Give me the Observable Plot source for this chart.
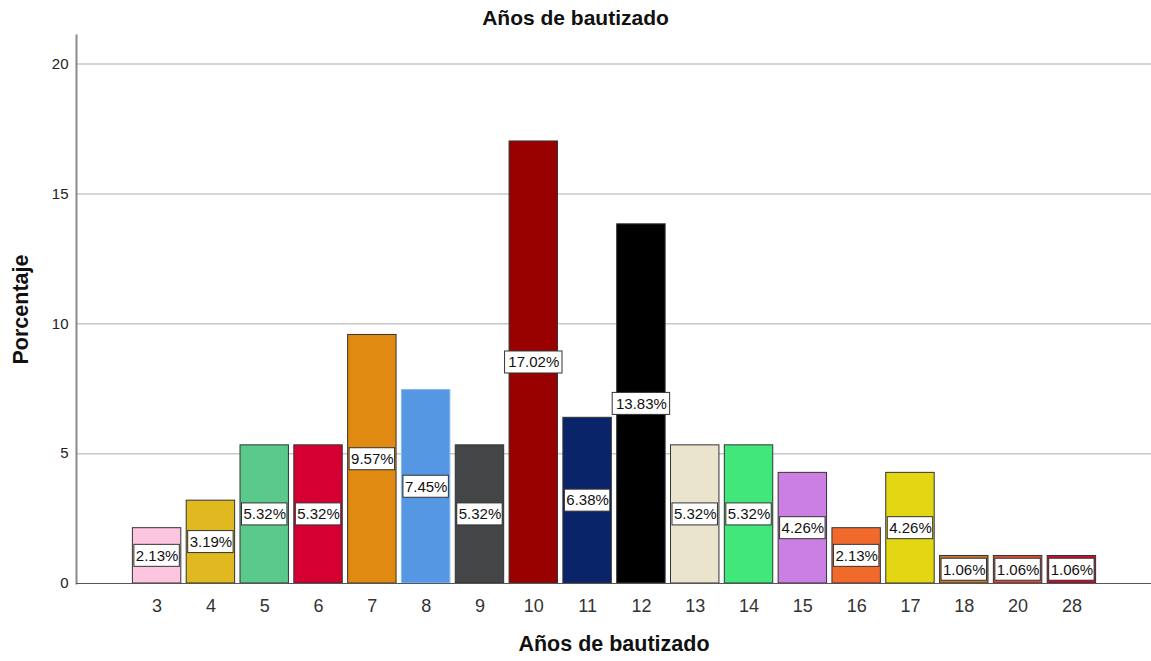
<!DOCTYPE html>
<html>
<head>
<meta charset="utf-8">
<script src="https://cdn.jsdelivr.net/npm/d3@7"></script>
<script src="https://cdn.jsdelivr.net/npm/@observablehq/plot@0.6"></script>
<style>
  html, body { margin: 0; padding: 0; background: #fff; }
  #title { width: 1151px; height: 34px; line-height: 36px; text-align: center;
           font-family: "Liberation Sans", Arial, sans-serif; font-weight: bold; font-size: 21px; color: #111; }
</style>
</head>
<body>
<div id="title">Años de bautizado</div>
<div id="chart"></div>
<script>
const years = ["3","4","5","6","7","8","9","10","11","12","13","14","15","16","17","18","20","28"];
const pct = [2.13, 3.19, 5.32, 5.32, 9.57, 7.45, 5.32, 17.02, 6.38, 13.83, 5.32, 5.32, 4.26, 2.13, 4.26, 1.06, 1.06, 1.06];
const yTicks = [0, 5, 10, 15, 20];
const barColors = ["#FDC5E0","#E0B81F","#5BC98A","#D50032","#E08A11","#5597E3","#444547","#990000","#0A2469","#000000",
                   "#EAE4CD","#42E77C","#CB7FE2","#F26A2B","#E3D612","#C47A2C","#E04C3C","#CC0A2E"];
const xTitle = "Años de bautizado";
const yTitle = "Porcentaje";

const data = years.map((y, i) => ({year: y, pct: pct[i], label: pct[i].toFixed(2) + "%"}));

const chart = Plot.plot({
  width: 1151,
  height: 627,
  marginTop: 1,
  marginLeft: 76,
  marginRight: 0,
  marginBottom: 78,
  style: {fontFamily: "'Liberation Sans', Arial, sans-serif", background: "white", color: "#222"},
  x: {domain: years, padding: 0.1, round: false, insetLeft: 51, insetRight: 50, label: null},
  y: {domain: [0, 21.1], label: null},
  color: {domain: years, range: barColors},
  marks: [
    Plot.ruleY(yTicks.filter(t => t > 0), {stroke: "#c8c8c8", strokeWidth: 1.5}),
    Plot.frame({anchor: "left", stroke: "#8a8a8a", strokeWidth: 2}),
    Plot.barY(data.filter(d => d.year !== "8"), {x: "year", y: "pct", fill: "year", stroke: "#333", strokeWidth: 1}),
    Plot.barY(data.filter(d => d.year === "8"), {x: "year", y: "pct", fill: "year", stroke: "#8ab8ec", strokeWidth: 1}),
    Plot.ruleY([0], {stroke: "#555"}),
    Plot.barY(data.filter(d => d.label.length <= 5), {x: "year", y1: d => d.pct / 2, y2: d => d.pct / 2,
      insetTop: -11, insetBottom: -11, insetLeft: 1.5, insetRight: 1.5, fill: "white", stroke: "#333"}),
    Plot.barY(data.filter(d => d.label.length > 5), {x: "year", y1: d => d.pct / 2, y2: d => d.pct / 2,
      insetTop: -11, insetBottom: -11, insetLeft: -4.5, insetRight: -4.5, fill: "white", stroke: "#333"}),
    Plot.text(data, {x: "year", y: d => d.pct / 2, text: "label", fontSize: 15, fill: "#111"}),
    Plot.axisY(yTicks, {tickSize: 0, tickPadding: 8, fontSize: 15, label: null}),
    Plot.axisX({tickSize: 0, tickPadding: 16, fontSize: 18, label: null, fill: "#333"}),
    Plot.text([xTitle], {text: d => d, frameAnchor: "bottom", dy: 67, fontSize: 21.5, fontWeight: "bold", fill: "#111"}),
    Plot.text([yTitle], {text: d => d, frameAnchor: "left", textAnchor: "middle", rotate: -90, dx: -55, fontSize: 21.5, fontWeight: "bold", fill: "#111"})
  ]
});
document.getElementById("chart").appendChild(chart);
</script>
</body>
</html>
